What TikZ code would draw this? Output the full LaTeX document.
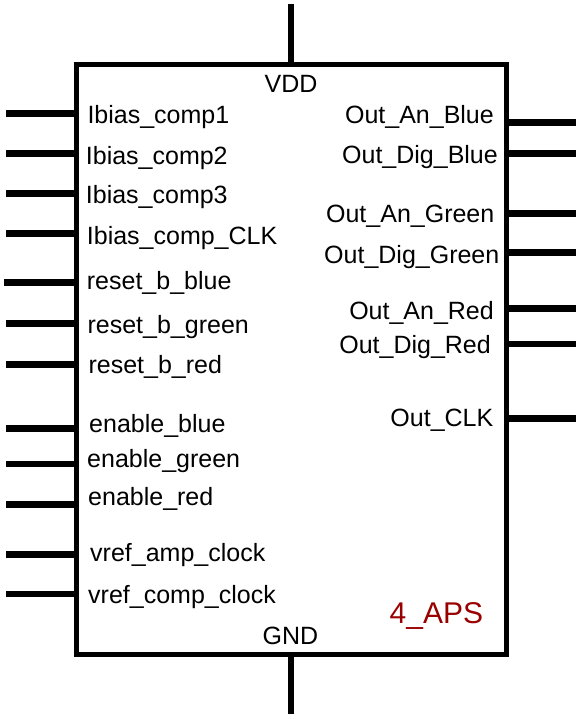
\documentclass[tikz,border=0pt]{standalone}
\usepackage{fontspec}
\setmainfont{Liberation Sans}
\definecolor{apsred}{HTML}{990000}
\tikzset{chipbox/.style={draw, line width=5pt, minimum width=429.5pt, minimum height=589.5pt, inner sep=0pt},
         pin/.style={line width=6.5pt},
         sig/.style={inner sep=0pt, font=\fontsize{25}{30}\selectfont},
         insig/.style={sig, anchor=base west},
         outsig/.style={sig, anchor=base east}}

\begin{document}
\begin{tikzpicture}[x=1pt, y=-1pt]
            \useasboundingbox (0,0) rectangle (581,719);
            \node[chipbox] (chip) at (291.25,359.25) {};

            % supply
            \node[sig, anchor=base] (vdd) at (291,92.7) {VDD};
            \node[sig, anchor=base] (gnd) at (290.5,644.3) {GND};
            \node[sig, anchor=base west, text=apsred, font=\fontsize{30}{36}\selectfont] (name) at (389.5,623.3) {4\_APS};

            % inputs
            \node[insig] (ib1) at (87.3,124) {Ibias\_comp1};
            \node[insig] (ib2) at (85.7,164.3) {Ibias\_comp2};
            \node[insig] (ib3) at (85.7,203.7) {Ibias\_comp3};
            \node[insig] (ibclk) at (86.7,244.3) {Ibias\_comp\_CLK};
            \node[insig] (rstb) at (86.7,289.3) {reset\_b\_blue};
            \node[insig] (rstg) at (87.4,333.3) {reset\_b\_green};
            \node[insig] (rstr) at (88.4,373.3) {reset\_b\_red};
            \node[insig] (enb) at (89,432.3) {enable\_blue};
            \node[insig] (eng) at (87,467.8) {enable\_green};
            \node[insig] (enr) at (88,505) {enable\_red};
            \node[insig] (vamp) at (90,561.7) {vref\_amp\_clock};
            \node[insig] (vcomp) at (88,603.3) {vref\_comp\_clock};

            % outputs
            \node[outsig] (anb) at (494,124) {Out\_An\_Blue};
            \node[outsig] (digb) at (498,163.3) {Out\_Dig\_Blue};
            \node[outsig] (ang) at (494.5,222.7) {Out\_An\_Green};
            \node[outsig] (digg) at (499.5,263.3) {Out\_Dig\_Green};
            \node[outsig] (anr) at (494,319) {Out\_An\_Red};
            \node[outsig] (digr) at (491,353.3) {Out\_Dig\_Red};
            \node[outsig] (oclk) at (493.5,426.7) {Out\_CLK};

            % pin ends
            \coordinate (vddp) at (291,4);
            \coordinate (gndp) at (291,714);
            \coordinate (ib1p) at (6,113.7);
            \coordinate (ib2p) at (6,153.7);
            \coordinate (ib3p) at (6,193.3);
            \coordinate (ibclkp) at (6,233.3);
            \coordinate (rstbp) at (4,282.3);
            \coordinate (rstgp) at (6,323.3);
            \coordinate (rstrp) at (6,364.3);
            \coordinate (enbp) at (6,428.3);
            \coordinate (engp) at (6,463.8);
            \coordinate (enrp) at (6,504.3);
            \coordinate (vampp) at (6,554.3);
            \coordinate (vcompp) at (6,594);
            \coordinate (anbp) at (576,122.7);
            \coordinate (digbp) at (576,153.3);
            \coordinate (angp) at (576,213.3);
            \coordinate (diggp) at (576,252.5);
            \coordinate (anrp) at (576,308.3);
            \coordinate (digrp) at (576,344);
            \coordinate (oclkp) at (576,418.3);

            \draw[pin] (vddp) -- (vddp |- chip.north);
            \draw[pin] (gndp |- chip.south) -- (gndp);
            \draw[pin] (ib1p) -- (ib1p -| chip.west);
            \draw[pin] (ib2p) -- (ib2p -| chip.west);
            \draw[pin] (ib3p) -- (ib3p -| chip.west);
            \draw[pin] (ibclkp) -- (ibclkp -| chip.west);
            \draw[pin] (rstbp) -- (rstbp -| chip.west);
            \draw[pin] (rstgp) -- (rstgp -| chip.west);
            \draw[pin] (rstrp) -- (rstrp -| chip.west);
            \draw[pin] (enbp) -- (enbp -| chip.west);
            \draw[pin] (engp) -- (engp -| chip.west);
            \draw[pin] (enrp) -- (enrp -| chip.west);
            \draw[pin] (vampp) -- (vampp -| chip.west);
            \draw[pin] (vcompp) -- (vcompp -| chip.west);
            \draw[pin] (anbp -| chip.east) -- (anbp);
            \draw[pin] (digbp -| chip.east) -- (digbp);
            \draw[pin] (angp -| chip.east) -- (angp);
            \draw[pin] (diggp -| chip.east) -- (diggp);
            \draw[pin] (anrp -| chip.east) -- (anrp);
            \draw[pin] (digrp -| chip.east) -- (digrp);
            \draw[pin] (oclkp -| chip.east) -- (oclkp);
        \end{tikzpicture}
\end{document}
